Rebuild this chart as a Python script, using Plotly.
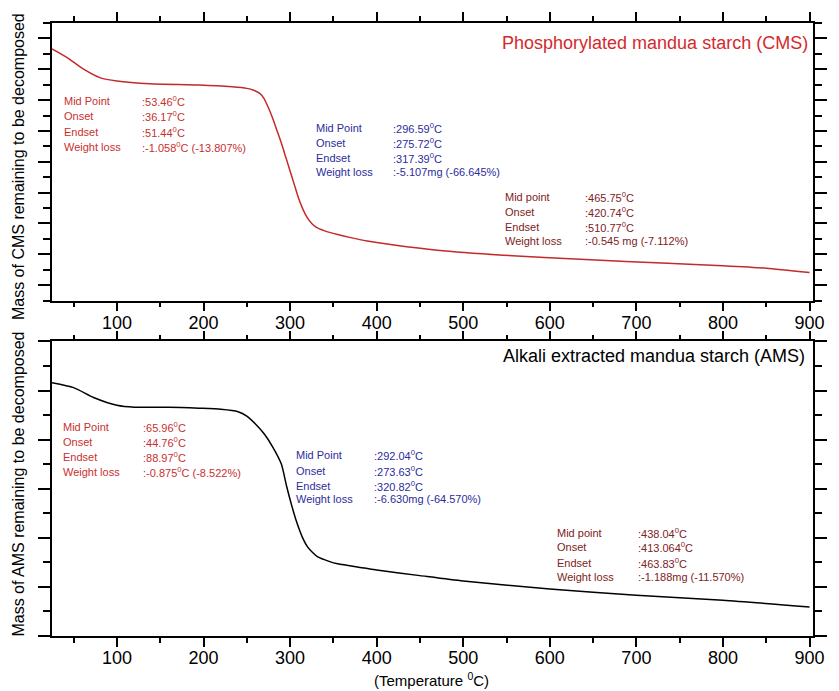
import plotly.graph_objects as go

# ---------------- data ----------------
cms_temp = [25, 43, 61, 81, 100, 138, 195, 233, 250, 258, 265, 270, 275, 280, 285, 290,
            295, 300, 305, 310, 315, 320, 325, 330, 340, 355, 370, 389, 420, 470, 546,
            641, 736, 800, 850, 900]
cms_mass = [8.16, 7.87, 7.51, 7.22, 7.12, 7.03, 6.99, 6.93, 6.88, 6.82, 6.72, 6.55, 6.25,
            5.90, 5.50, 5.10, 4.65, 4.20, 3.75, 3.30, 2.95, 2.68, 2.50, 2.38, 2.26, 2.14,
            2.04, 1.93, 1.80, 1.63, 1.47, 1.33, 1.21, 1.13, 1.05, 0.91]

ams_temp = [25, 50, 73, 100, 120, 160, 195, 220, 240, 250, 260, 270, 280, 290, 296, 302,
            308, 314, 320, 326, 332, 345, 355, 386, 400, 450, 500, 600, 700, 800, 900]
ams_mass = [5.16, 5.06, 4.86, 4.70, 4.66, 4.66, 4.64, 4.62, 4.57, 4.48, 4.32, 4.12, 3.85,
            3.50, 3.05, 2.65, 2.30, 2.02, 1.82, 1.70, 1.61, 1.52, 1.47, 1.385, 1.345, 1.23,
            1.12, 0.96, 0.83, 0.73, 0.59]

x_tick_vals = [100, 200, 300, 400, 500, 600, 700, 800, 900]
x_tick_text = ["100", "200", "300", "400", "500", "600", "700", "800", "900"]

block_labels_a = ["Mid Point", "Onset", "Endset", "Weight loss"]
block_labels_b = ["Mid point", "Onset", "Endset", "Weight loss"]
cms_step1 = [":53.46<sup>0</sup>C", ":36.17<sup>0</sup>C", ":51.44<sup>0</sup>C", ":-1.058<sup>0</sup>C (-13.807%)"]
cms_step2 = [":296.59<sup>0</sup>C", ":275.72<sup>0</sup>C", ":317.39<sup>0</sup>C", ":-5.107mg (-66.645%)"]
cms_step3 = [":465.75<sup>0</sup>C", ":420.74<sup>0</sup>C", ":510.77<sup>0</sup>C", ":-0.545 mg (-7.112%)"]
ams_step1 = [":65.96<sup>0</sup>C", ":44.76<sup>0</sup>C", ":88.97<sup>0</sup>C", ":-0.875<sup>0</sup>C (-8.522%)"]
ams_step2 = [":292.04<sup>0</sup>C", ":273.63<sup>0</sup>C", ":320.82<sup>0</sup>C", ":-6.630mg (-64.570%)"]
ams_step3 = [":438.04<sup>0</sup>C", ":413.064<sup>0</sup>C", ":463.83<sup>0</sup>C", ":-1.188mg (-11.570%)"]

title_cms = "Phosphorylated mandua starch (CMS)"
title_ams = "Alkali extracted mandua starch (AMS)"
ytitle_cms = "Mass of CMS remaining to be decomposed"
ytitle_ams = "Mass of AMS remaining to be decomposed"
xtitle = "(Temperature <sup>0</sup>C)"

# ---------------- layout constants ----------------
W, H = 839, 691
L, R, T, B = 52, 19, 22, 55
PW = W - L - R
PH = H - T - B
FONT = "Arial, Liberation Sans, sans-serif"

RED = "#c8302f"
BLUE = "#2c2c9c"
BROWN = "#7e2222"


def px(xp):
    return (xp - L) / PW


def py(yp):
    return (H - B - yp) / PH


fig = go.Figure()
fig.add_trace(go.Scatter(x=cms_temp, y=cms_mass, mode="lines",
                         line=dict(color="#c42a2a", width=1.5, shape="spline", smoothing=0.6),
                         xaxis="x", yaxis="y", showlegend=False))
fig.add_trace(go.Scatter(x=ams_temp, y=ams_mass, mode="lines",
                         line=dict(color="black", width=1.5, shape="spline", smoothing=0.6),
                         xaxis="x2", yaxis="y2", showlegend=False))

top_dom = [1 - 278 / PH, 1]
bot_dom = [0, 295 / PH]

xcommon = dict(range=[25, 904], tickvals=x_tick_vals, ticktext=x_tick_text,
               ticks="outside", ticklen=9, tickwidth=1.5, tickcolor="black",
               showline=True, linecolor="black", linewidth=1.5, mirror="ticks",
               showgrid=False, zeroline=False, ticklabelstandoff=-4,
               tickfont=dict(family=FONT, size=18, color="black"),
               minor=dict(tick0=0, dtick=50, ticks="outside", ticklen=5, tickwidth=1.5,
                          tickcolor="black", showgrid=False))
ycommon = dict(ticks="outside", ticklen=12, tickwidth=1.5, tickcolor="black",
               showline=True, linecolor="black", linewidth=1.5, mirror="ticks",
               showgrid=False, zeroline=False, showticklabels=False)

fig.update_layout(
    width=W, height=H, autosize=False,
    margin=dict(l=L, r=R, t=T, b=B),
    paper_bgcolor="white", plot_bgcolor="white",
    xaxis=dict(domain=[0, 1], anchor="y", **xcommon),
    yaxis=dict(domain=top_dom, anchor="x", range=[0, 9], tick0=0.5, dtick=1,
               minor=dict(tick0=0, dtick=0.5, ticks="outside", ticklen=7, tickwidth=1.5,
                          tickcolor="black", showgrid=False),
               **ycommon),
    xaxis2=dict(domain=[0, 1], anchor="y2", **xcommon),
    yaxis2=dict(domain=bot_dom, anchor="x2", range=[0, 6], tick0=0, dtick=1,
                minor=dict(tick0=0, dtick=0.5, ticks="outside", ticklen=7, tickwidth=1.5,
                           tickcolor="black", showgrid=False),
                **ycommon),
)

ann = []


def block(labels, values, x_lab, x_val, y_lines, color):
    for lab, val, yl in zip(labels, values, y_lines):
        ann.append(dict(text=lab, x=px(x_lab), y=py(yl), xref="paper", yref="paper",
                        xanchor="left", yanchor="middle", showarrow=False,
                        font=dict(family=FONT, size=11, color=color)))
        ann.append(dict(text=val, x=px(x_val), y=py(yl), xref="paper", yref="paper",
                        xanchor="left", yanchor="middle", showarrow=False,
                        font=dict(family=FONT, size=11, color=color)))


block(block_labels_a, cms_step1, 62, 141, [100, 115, 131, 146], RED)
block(block_labels_a, cms_step2, 316, 394, [127, 142, 157, 171], BLUE)
block(block_labels_b, cms_step3, 507, 588, [196, 211, 226, 240], BROWN)
block(block_labels_a, ams_step1, 61, 142, [427, 442, 457, 472], RED)
block(block_labels_a, ams_step2, 296, 375, [455, 471, 486, 499], BLUE)
block(block_labels_b, ams_step3, 560, 641, [533, 547, 563, 577], BROWN)

ann.append(dict(text=title_cms, x=px(817), y=py(42), xref="paper", yref="paper",
                xanchor="right", yanchor="middle", showarrow=False,
                font=dict(family=FONT, size=18, color="#d42a2e")))
ann.append(dict(text=title_ams, x=px(814), y=py(356), xref="paper", yref="paper",
                xanchor="right", yanchor="middle", showarrow=False,
                font=dict(family=FONT, size=18, color="black")))
ann.append(dict(text=ytitle_cms, x=px(18), y=py(166), xref="paper", yref="paper",
                xanchor="center", yanchor="middle", textangle=-90, showarrow=False,
                font=dict(family=FONT, size=16, color="black")))
ann.append(dict(text=ytitle_ams, x=px(18), y=py(484), xref="paper", yref="paper",
                xanchor="center", yanchor="middle", textangle=-90, showarrow=False,
                font=dict(family=FONT, size=16, color="black")))
ann.append(dict(text=xtitle, x=px(435), y=py(680), xref="paper", yref="paper",
                xanchor="center", yanchor="middle", showarrow=False,
                font=dict(family=FONT, size=15, color="black")))

fig.update_layout(annotations=ann)
fig.write_html("out.html", config={"displayModeBar": False},
               post_script="document.body.style.margin='0px';"
                           "document.body.style.overflow='hidden';"
                           "document.documentElement.style.overflow='hidden';")
